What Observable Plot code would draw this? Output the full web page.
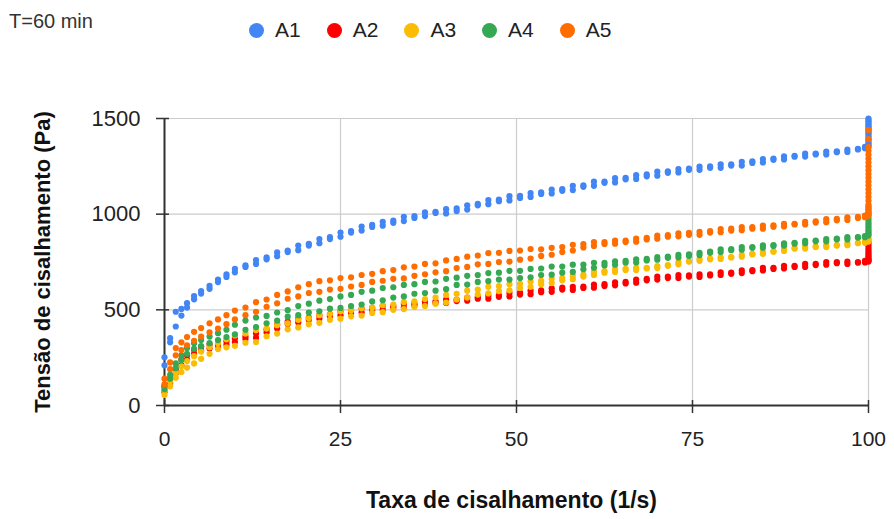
<!DOCTYPE html>
<html>
<head>
<meta charset="utf-8">
<script src="https://cdn.jsdelivr.net/npm/d3@7"></script>
<script src="https://cdn.jsdelivr.net/npm/@observablehq/plot@0.6"></script>
<style>
  body { margin: 0; background: #fff; }
  #wrap { position: relative; width: 894px; height: 519px; font-family: "Liberation Sans", Arial, sans-serif; }
  #title { position: absolute; left: 9px; top: 10px; font-size: 20px; color: #333; }
  #legend { position: absolute; left: 249px; top: 18px; display: flex; align-items: center; }
  .item { display: flex; align-items: center; margin-right: 26px; font-size: 21px; color: #222; }
  .sw { width: 15px; height: 15px; border-radius: 50%; margin-right: 11px; }
  #chart { position: absolute; left: 0; top: 0; }
</style>
</head>
<body>
<div id="wrap">
  <div id="chart"></div>
  <div id="title">T=60 min</div>
  <div id="legend"></div>
</div>
<script>
const seriesNames = ["A1", "A2", "A3", "A4", "A5"];
const seriesColors = ["#4285f4", "#ff0000", "#fbbc04", "#34a853", "#ff6d01"];
const xTicks = [0, 25, 50, 75, 100];
const yTicks = [0, 500, 1000, 1500];
const xTitle = "Taxa de cisalhamento (1/s)";
const yTitle = "Tensão de cisalhamento (Pa)";

// shear rate (1/s) shared by all ramps
const shearRate = [
  0, 0.8, 1.6, 2.4, 3.2, 4.2, 5.2, 6.4, 7.6, 8.8,
  10, 11.5, 13, 14.5, 16, 17.5, 19, 20.5, 22, 23.5,
  25, 26.5, 28, 29.5, 31, 32.5, 34, 35.5, 37, 38.5,
  40, 41.5, 43, 44.5, 46, 47.5, 49, 50.5, 52, 53.5,
  55, 56.5, 58, 59.5, 61, 62.5, 64, 65.5, 67, 68.5,
  70, 71.5, 73, 74.5, 76, 77.5, 79, 80.5, 82, 83.5,
  85, 86.5, 88, 89.5, 91, 92.5, 94, 95.5, 97, 98.5,
  99.5
];
const holdRate = 100;

// A1
const A1_up = [
  252, 352, 490, 505, 535, 572, 598, 625, 658, 685,
  714, 732, 760, 774, 800, 810, 836, 845, 870, 880,
  904, 912, 935, 944, 960, 966, 986, 990, 1010, 1012,
  1026, 1030, 1046, 1054, 1074, 1076, 1094, 1096, 1110, 1114,
  1128, 1131, 1148, 1150, 1170, 1170, 1188, 1190, 1204, 1208,
  1222, 1224, 1236, 1238, 1248, 1250, 1260, 1260, 1274, 1276,
  1288, 1290, 1302, 1305, 1316, 1316, 1327, 1328, 1338, 1341,
  1352
];
const A1_down = [
  210, 330, 413, 470, 512, 555, 585, 610, 645, 672,
  696, 724, 740, 764, 780, 802, 812, 836, 848, 870,
  882, 904, 914, 933, 940, 955, 964, 980, 990, 1006,
  1004, 1016, 1024, 1046, 1052, 1068, 1072, 1085, 1090, 1106,
  1108, 1122, 1126, 1143, 1148, 1164, 1166, 1182, 1184, 1198,
  1201, 1216, 1218, 1232, 1232, 1242, 1242, 1254, 1254, 1268,
  1270, 1284, 1286, 1300, 1301, 1312, 1312, 1324, 1325, 1338,
  1345
];
const A1_hold = [1500, 1492, 1484, 1476, 1468, 1460, 1452, 1444, 1436, 1428, 1420, 1410, 1400, 1390, 1380, 1370, 1362, 1356];

// A2
const A2_up = [
  100, 140, 188, 240, 262, 292, 306, 318, 316, 336,
  352, 360, 376, 398, 424, 438, 454, 460, 472, 476,
  492, 496, 506, 510, 520, 520, 530, 532, 544, 544,
  554, 554, 564, 566, 574, 576, 588, 590, 600, 602,
  612, 616, 620, 622, 632, 634, 644, 646, 658, 662,
  674, 674, 682, 680, 686, 686, 696, 694, 706, 708,
  720, 720, 730, 730, 740, 740, 750, 750, 752, 750,
  756
];
const A2_down = [
  70, 118, 168, 210, 240, 270, 286, 298, 300, 318,
  332, 348, 354, 382, 402, 426, 434, 448, 454, 466,
  472, 484, 486, 498, 500, 510, 512, 522, 526, 536,
  536, 546, 548, 558, 558, 568, 570, 580, 582, 592,
  594, 606, 604, 614, 616, 624, 628, 638, 642, 654,
  658, 666, 666, 674, 672, 680, 682, 688, 692, 702,
  706, 714, 716, 724, 724, 734, 736, 744, 740, 746,
  748
];
const A2_hold = [852, 840, 828, 816, 805, 795, 786, 778, 770, 763, 757, 752];

// A3
const A3_up = [
  80, 125, 170, 205, 232, 258, 282, 305, 326, 346,
  366, 376, 394, 402, 420, 430, 448, 456, 472, 478,
  492, 496, 508, 512, 524, 528, 540, 544, 556, 564,
  578, 584, 600, 606, 620, 624, 634, 636, 648, 652,
  662, 666, 678, 684, 698, 702, 712, 714, 720, 720,
  728, 734, 750, 754, 766, 768, 776, 776, 788, 792,
  802, 806, 818, 822, 830, 830, 838, 838, 848, 850,
  856
];
const A3_down = [
  55, 100, 145, 175, 198, 220, 244, 270, 295, 304,
  312, 328, 332, 362, 376, 398, 408, 424, 432, 448,
  454, 466, 470, 484, 488, 500, 504, 516, 520, 532,
  538, 554, 564, 580, 586, 598, 602, 614, 620, 634,
  640, 654, 660, 674, 682, 694, 698, 708, 708, 716,
  718, 730, 738, 752, 756, 764, 766, 774, 778, 790,
  792, 804, 808, 820, 820, 828, 828, 836, 838, 848,
  850
];
const A3_hold = [872, 866, 861, 857];

// A4
const A4_up = [
  100, 160, 220, 262, 300, 325, 342, 360, 378, 396,
  422, 444, 460, 468, 486, 498, 520, 532, 548, 556,
  570, 578, 594, 600, 614, 618, 630, 634, 646, 648,
  662, 668, 678, 682, 692, 694, 704, 704, 714, 716,
  726, 726, 736, 736, 746, 746, 754, 756, 764, 766,
  776, 778, 788, 790, 798, 804, 816, 818, 828, 828,
  837, 838, 848, 850, 860, 862, 870, 872, 880, 880,
  886
];
const A4_down = [
  85, 140, 195, 238, 270, 296, 310, 326, 342, 358,
  372, 396, 410, 430, 444, 464, 472, 486, 492, 506,
  510, 520, 528, 544, 550, 564, 570, 584, 588, 600,
  608, 630, 632, 646, 650, 658, 658, 666, 670, 682,
  684, 694, 698, 712, 720, 732, 736, 746, 748, 758,
  762, 772, 774, 782, 786, 798, 802, 812, 814, 824,
  824, 834, 836, 846, 848, 858, 858, 868, 868, 878,
  880
];
const A4_hold = [1040, 1025, 1010, 995, 980, 966, 952, 940, 928, 916, 905, 896, 888];

// A5
const A5_up = [
  140, 225, 300, 330, 358, 385, 405, 430, 450, 472,
  496, 512, 540, 554, 578, 596, 618, 634, 650, 654,
  666, 670, 682, 688, 702, 708, 722, 726, 740, 743,
  758, 766, 778, 784, 796, 798, 808, 810, 818, 816,
  824, 828, 840, 844, 854, 854, 862, 862, 872, 876,
  888, 890, 900, 902, 908, 912, 922, 924, 932, 932,
  940, 942, 950, 950, 960, 963, 974, 976, 984, 986,
  992
];
const A5_down = [
  110, 190, 262, 290, 315, 338, 360, 382, 402, 425,
  450, 472, 490, 516, 534, 558, 570, 588, 594, 606,
  610, 622, 630, 646, 652, 662, 664, 678, 686, 696,
  702, 718, 724, 738, 740, 750, 752, 762, 768, 782,
  788, 802, 810, 826, 834, 844, 846, 854, 856, 868,
  872, 882, 884, 892, 892, 904, 906, 914, 916, 924,
  924, 934, 936, 946, 946, 956, 958, 968, 970, 980,
  984
];
const A5_hold = [1440, 1392, 1350, 1330, 1310, 1290, 1270, 1250, 1230, 1210, 1190, 1170, 1150, 1130, 1110, 1090, 1070, 1050, 1032, 1016, 1002, 992];

const upRamps = [A1_up, A2_up, A3_up, A4_up, A5_up];
const downRamps = [A1_down, A2_down, A3_down, A4_down, A5_down];
const holds = [A1_hold, A2_hold, A3_hold, A4_hold, A5_hold];

const rows = [];
seriesNames.forEach((name, k) => {
  [upRamps[k], downRamps[k]].forEach(arr =>
    arr.forEach((v, i) => rows.push({series: name, x: shearRate[i], y: v})));
  holds[k].forEach(v => rows.push({series: name, x: holdRate, y: v}));
});

const chart = Plot.plot({
  width: 894,
  height: 519,
  marginLeft: 164,
  marginRight: 26,
  marginTop: 118,
  marginBottom: 114,
  style: {fontFamily: "'Liberation Sans', Arial, sans-serif", fontSize: "21px", color: "#222", background: "transparent"},
  x: {domain: [0, 100]},
  y: {domain: [0, 1500]},
  color: {domain: seriesNames, range: seriesColors},
  marks: [
    Plot.ruleX(xTicks, {stroke: "#cccccc", strokeWidth: 1.2}),
    Plot.ruleY(yTicks, {stroke: "#cccccc", strokeWidth: 1.2}),
    Plot.ruleX([0], {stroke: "#333", strokeWidth: 2}),
    Plot.ruleY([0], {stroke: "#333", strokeWidth: 2}),
    Plot.dot(rows, {x: "x", y: "y", fill: "series", r: 3.1}),
    Plot.axisY({ticks: yTicks, tickFormat: d => String(d), tickSize: 8, tickPadding: 16, label: null, stroke: "#333", strokeWidth: 1.5, fontSize: 22}),
    Plot.axisY({ticks: yTicks, tickSize: 5, dx: 5, text: null, label: null, stroke: "#333", strokeWidth: 1.5}),
    Plot.axisX({ticks: xTicks, tickFormat: d => String(d), tickSize: 8, tickPadding: 18, label: null, stroke: "#333", strokeWidth: 1.5, fontSize: 21}),
    Plot.axisX({ticks: xTicks, tickSize: 5, dy: -5, text: null, label: null, stroke: "#333", strokeWidth: 1.5}),
    Plot.text([yTitle], {frameAnchor: "left", dx: -122, rotate: -90, textAnchor: "middle", lineAnchor: "middle", fontWeight: "bold", fontSize: 22, fill: "#111", text: d => d}),
    Plot.text([xTitle], {frameAnchor: "bottom", dy: 95, dx: -5, textAnchor: "middle", lineAnchor: "middle", fontWeight: "bold", fontSize: 23, fill: "#111", text: d => d})
  ]
});
document.getElementById("chart").appendChild(chart);

const legend = document.getElementById("legend");
seriesNames.forEach((name, k) => {
  const item = document.createElement("div");
  item.className = "item";
  const sw = document.createElement("span");
  sw.className = "sw";
  sw.style.background = seriesColors[k];
  const lab = document.createElement("span");
  lab.textContent = name;
  item.appendChild(sw);
  item.appendChild(lab);
  legend.appendChild(item);
});
</script>
</body>
</html>
